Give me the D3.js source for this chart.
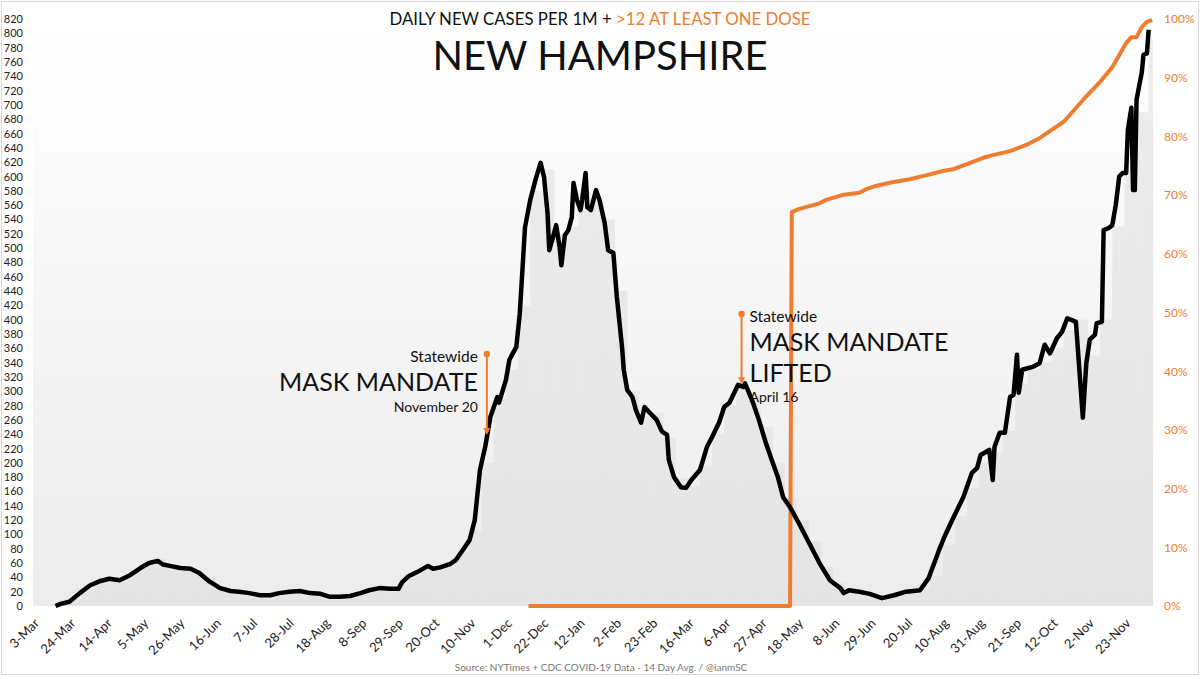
<!DOCTYPE html>
<html><head><meta charset="utf-8">
<script src="https://cdn.jsdelivr.net/npm/d3@7"></script>
<style>
html,body{margin:0;padding:0;background:#fff;}
svg{display:block;font-family:Lato,"Open Sans",sans-serif;}
</style></head><body>
<svg id="chart" width="1200" height="676"></svg>
<script>
// ---------------- DATA ----------------
const caseDates = ["2020-03-16","2020-03-19","2020-03-24","2020-03-30","2020-04-05","2020-04-11","2020-04-16","2020-04-22","2020-04-28","2020-05-04","2020-05-09","2020-05-14","2020-05-17","2020-05-21","2020-05-27","2020-06-02","2020-06-07","2020-06-13","2020-06-19","2020-06-25","2020-06-30","2020-07-06","2020-07-12","2020-07-18","2020-07-23","2020-07-29","2020-08-04","2020-08-10","2020-08-16","2020-08-21","2020-08-27","2020-09-02","2020-09-08","2020-09-13","2020-09-19","2020-09-25","2020-09-30","2020-10-02","2020-10-06","2020-10-12","2020-10-17","2020-10-20","2020-10-24","2020-10-30","2020-11-02","2020-11-06","2020-11-10","2020-11-13","2020-11-16","2020-11-19","2020-11-22","2020-11-26","2020-11-27","2020-12-01","2020-12-03","2020-12-07","2020-12-09","2020-12-12","2020-12-15","2020-12-18","2020-12-21","2020-12-23","2020-12-25","2020-12-26","2020-12-28","2020-12-30","2021-01-01","2021-01-02","2021-01-04","2021-01-06","2021-01-08","2021-01-09","2021-01-11","2021-01-13","2021-01-14","2021-01-16","2021-01-17","2021-01-19","2021-01-22","2021-01-24","2021-01-27","2021-01-29","2021-02-01","2021-02-03","2021-02-06","2021-02-07","2021-02-09","2021-02-12","2021-02-14","2021-02-17","2021-02-19","2021-02-22","2021-02-26","2021-03-01","2021-03-04","2021-03-05","2021-03-08","2021-03-12","2021-03-15","2021-03-18","2021-03-23","2021-03-27","2021-03-30","2021-04-03","2021-04-06","2021-04-09","2021-04-12","2021-04-14","2021-04-17","2021-04-18","2021-04-22","2021-04-26","2021-04-30","2021-05-04","2021-05-07","2021-05-10","2021-05-14","2021-05-19","2021-05-25","2021-05-31","2021-06-06","2021-06-12","2021-06-14","2021-06-17","2021-06-23","2021-06-29","2021-07-06","2021-07-13","2021-07-20","2021-07-28","2021-08-02","2021-08-08","2021-08-11","2021-08-15","2021-08-22","2021-08-27","2021-08-30","2021-09-01","2021-09-06","2021-09-08","2021-09-09","2021-09-12","2021-09-15","2021-09-18","2021-09-20","2021-09-22","2021-09-23","2021-09-25","2021-10-01","2021-10-05","2021-10-08","2021-10-11","2021-10-12","2021-10-15","2021-10-18","2021-10-21","2021-10-24","2021-10-26","2021-10-30","2021-11-01","2021-11-03","2021-11-06","2021-11-07","2021-11-10","2021-11-11","2021-11-14","2021-11-16","2021-11-18","2021-11-20","2021-11-22","2021-11-24","2021-11-25","2021-11-27","2021-11-28","2021-11-29","2021-11-30","2021-12-01","2021-12-03","2021-12-04","2021-12-06","2021-12-07"];
const caseValues = [0,3,6,18,29,35,38,36,43,53,60,63,58,56,53,52,46,34,25,21,20,18,15,15,18,20,21,18,17,13,13,14,18,22,25,24,24,33,42,49,56,52,54,59,64,78,92,120,190,222,264,292,284,316,344,362,409,529,567,595,619,599,549,497,514,532,501,476,518,525,543,591,567,553,567,605,557,553,581,567,535,497,493,432,362,330,302,292,274,256,278,270,260,244,239,204,180,166,165,176,190,222,236,256,278,284,299,309,306,311,288,260,228,200,180,152,138,116,88,60,36,25,18,22,20,17,11,15,20,22,39,78,96,117,152,186,193,211,218,176,222,242,242,292,295,351,298,330,334,339,365,353,358,374,383,402,399,397,263,339,372,379,395,397,525,528,532,560,600,605,605,665,696,581,581,707,720,745,770,772,805];

const doseDates = ["2020-12-14","2021-05-14","2021-05-15","2021-05-19","2021-05-31","2021-06-04","2021-06-13","2021-06-23","2021-06-27","2021-07-03","2021-07-12","2021-07-22","2021-08-01","2021-08-10","2021-08-16","2021-08-26","2021-09-04","2021-09-08","2021-09-18","2021-09-27","2021-10-05","2021-10-12","2021-10-19","2021-10-25","2021-10-31","2021-11-09","2021-11-16","2021-11-24","2021-11-27","2021-11-30","2021-12-03","2021-12-06","2021-12-09"];
const doseValues = [0,0,67.1,67.6,68.6,69.2,70.0,70.4,71.0,71.6,72.2,72.7,73.4,74.1,74.4,75.5,76.5,76.8,77.5,78.5,79.7,81.1,82.5,84.5,86.5,89.3,91.8,95.9,96.9,96.9,98.6,99.5,99.8];

// weekly estimate of the daily-case bars (per 1M)
const barWeekStarts = ["2020-03-03","2020-03-10","2020-03-17","2020-03-24","2020-03-31","2020-04-07","2020-04-14","2020-04-21","2020-04-28","2020-05-05","2020-05-12","2020-05-19","2020-05-26","2020-06-02","2020-06-09","2020-06-16","2020-06-23","2020-06-30","2020-07-07","2020-07-14","2020-07-21","2020-07-28","2020-08-04","2020-08-11","2020-08-18","2020-08-25","2020-09-01","2020-09-08","2020-09-15","2020-09-22","2020-09-29","2020-10-06","2020-10-13","2020-10-20","2020-10-27","2020-11-03","2020-11-10","2020-11-17","2020-11-24","2020-12-01","2020-12-08","2020-12-15","2020-12-22","2020-12-29","2021-01-05","2021-01-12","2021-01-19","2021-01-26","2021-02-02","2021-02-09","2021-02-16","2021-02-23","2021-03-02","2021-03-09","2021-03-16","2021-03-23","2021-03-30","2021-04-06","2021-04-13","2021-04-20","2021-04-27","2021-05-04","2021-05-11","2021-05-18","2021-05-25","2021-06-01","2021-06-08","2021-06-15","2021-06-22","2021-06-29","2021-07-06","2021-07-13","2021-07-20","2021-07-27","2021-08-03","2021-08-10","2021-08-17","2021-08-24","2021-08-31","2021-09-07","2021-09-14","2021-09-21","2021-09-28","2021-10-05","2021-10-12","2021-10-19","2021-10-26","2021-11-02","2021-11-09","2021-11-16","2021-11-23","2021-11-30","2021-12-07"];
const barValues = [0,1,4,10,25,35,40,38,48,62,66,58,55,50,40,27,22,20,17,15,18,21,22,18,15,13,15,20,24,26,30,42,52,55,62,75,105,200,290,330,420,580,610,520,530,580,570,540,440,300,265,270,235,178,168,195,240,280,305,295,250,200,150,120,90,55,32,20,20,15,12,15,20,24,42,85,125,165,200,215,245,310,330,340,360,385,400,350,400,530,610,690,790];

const yTicks = [0,20,40,60,80,100,120,140,160,180,200,220,240,260,280,300,320,340,360,380,400,420,440,460,480,500,520,540,560,580,600,620,640,660,680,700,720,740,760,780,800,820];
const pctTicks = [0,10,20,30,40,50,60,70,80,90,100];
const xTickDates = ["2020-03-03","2020-03-24","2020-04-14","2020-05-05","2020-05-26","2020-06-16","2020-07-07","2020-07-28","2020-08-18","2020-09-08","2020-09-29","2020-10-20","2020-11-10","2020-12-01","2020-12-22","2021-01-12","2021-02-02","2021-02-23","2021-03-16","2021-04-06","2021-04-27","2021-05-18","2021-06-08","2021-06-29","2021-07-20","2021-08-10","2021-08-31","2021-09-21","2021-10-12","2021-11-02","2021-11-23"];
const xTickLabels = ["3-Mar","24-Mar","14-Apr","5-May","26-May","16-Jun","7-Jul","28-Jul","18-Aug","8-Sep","29-Sep","20-Oct","10-Nov","1-Dec","22-Dec","12-Jan","2-Feb","23-Feb","16-Mar","6-Apr","27-Apr","18-May","8-Jun","29-Jun","20-Jul","10-Aug","31-Aug","21-Sep","12-Oct","2-Nov","23-Nov"];

const annotations = [
  {date:"2020-11-20", top:354, lines:["Statewide","MASK MANDATE","November 20"], side:"left"},
  {date:"2021-04-16", top:314, lines:["Statewide","MASK MANDATE","LIFTED","April 16"], side:"right"}
];

// ---------------- CHART ----------------
const W = 1200, H = 676;
const ORANGE = "#ED7D31";
const parse = d3.utcParse("%Y-%m-%d");
const svg = d3.select("#chart");

const x = d3.scaleUtc()
  .domain([parse("2020-03-03"), new Date(Date.UTC(2021,11,9,12))])
  .range([33, 1153]);
const y = d3.scaleLinear().domain([0, 820]).range([606, 19]);
const yP = d3.scaleLinear().domain([0, 100]).range([606, 19]);

// outer border
svg.append("rect").attr("x",1.5).attr("y",1.5).attr("width",W-3).attr("height",H-3)
  .attr("fill","#fff").attr("stroke","#d9d9d9").attr("stroke-width",1);

// plot background gradient
const defs = svg.append("defs");
const grad = defs.append("linearGradient").attr("id","bg").attr("x1",0).attr("x2",0).attr("y1",0).attr("y2",1);
grad.append("stop").attr("offset","0%").attr("stop-color","#ffffff");
grad.append("stop").attr("offset","100%").attr("stop-color","#ececec");
svg.append("rect").attr("x",x.range()[0]).attr("y",y(820)).attr("width",x.range()[1]-x.range()[0])
  .attr("height",y(0)-y(820)).attr("fill","url(#bg)");

// bars
const dayMs = 86400000;
svg.append("g").selectAll("rect").data(barWeekStarts.map((d,i)=>({d:parse(d),v:barValues[i]})))
  .join("rect")
  .attr("x", d=>x(d.d))
  .attr("width", d=>Math.max(0, Math.min(x.range()[1], x(new Date(+d.d+7*dayMs))) - x(d.d)))
  .attr("y", d=>y(d.v))
  .attr("height", d=>y(0)-y(d.v))
  .attr("fill","#dedede").attr("opacity",0.55);

// left axis
const yAxis = d3.axisLeft(y).tickValues(yTicks).tickSize(0).tickPadding(0);
const gy = svg.append("g").attr("transform","translate(23,0)").call(yAxis);
gy.select(".domain").remove();
gy.selectAll("text").attr("font-size",11).attr("fill","#222").attr("font-family","Lato, sans-serif");

// right axis
const yAxisR = d3.axisRight(yP).tickValues(pctTicks).tickFormat(d=>d+"%").tickSize(0).tickPadding(0);
const gr = svg.append("g").attr("transform","translate(1164,0)").call(yAxisR);
gr.select(".domain").remove();
gr.selectAll("text").attr("font-size",12).attr("fill",ORANGE).attr("font-family","Lato, sans-serif");

// x labels
const gx = svg.append("g");
gx.selectAll("text").data(xTickDates.map((d,i)=>({d:parse(d),l:xTickLabels[i]})))
  .join("text")
  .attr("transform", d=>`translate(${x(d.d)+7},${624}) rotate(-45)`)
  .attr("text-anchor","end")
  .attr("font-size",13).attr("fill","#222")
  .text(d=>d.l);

// dose line (orange)
const doseData = doseDates.map((d,i)=>({d:parse(d),v:doseValues[i]}));
svg.append("path").datum(doseData)
  .attr("fill","none").attr("stroke",ORANGE).attr("stroke-width",4).attr("stroke-linejoin","round")
  .attr("d", d3.line().x(d=>x(d.d)).y(d=>yP(d.v)));

// case line (black)
const caseData = caseDates.map((d,i)=>({d:parse(d),v:caseValues[i]}));
svg.append("path").datum(caseData)
  .attr("fill","none").attr("stroke","#000").attr("stroke-width",4.5).attr("stroke-linejoin","round")
  .attr("d", d3.line().x(d=>x(d.d)).y(d=>y(d.v)));

// annotations
function valueAt(date){
  const t = +parse(date);
  for(let i=1;i<caseData.length;i++){
    if(+caseData[i].d >= t){
      const a=caseData[i-1], b=caseData[i];
      const f=(t-a.d)/(b.d-a.d);
      return a.v+(b.v-a.v)*f;
    }
  }
  return 0;
}
annotations.forEach(a=>{
  const ax = x(parse(a.date));
  const tipY = y(valueAt(a.date)) - 3;
  const g = svg.append("g");
  g.append("line").attr("x1",ax).attr("x2",ax).attr("y1",a.top).attr("y2",tipY-5)
    .attr("stroke",ORANGE).attr("stroke-width",2);
  g.append("circle").attr("cx",ax).attr("cy",a.top).attr("r",3.2).attr("fill",ORANGE);
  g.append("path").attr("d",`M${ax-3.5},${tipY-6}L${ax+3.5},${tipY-6}L${ax},${tipY+1}Z`).attr("fill",ORANGE);
  if(a.side==="left"){
    const tx = ax-9;
    g.append("text").attr("x",tx).attr("y",a.top+8).attr("text-anchor","end").attr("font-size",15.5).attr("fill","#111").text(a.lines[0]);
    g.append("text").attr("x",tx).attr("y",a.top+37).attr("text-anchor","end").attr("font-size",25).attr("fill","#111").text(a.lines[1]);
    g.append("text").attr("x",tx).attr("y",a.top+58).attr("text-anchor","end").attr("font-size",14).attr("fill","#111").text(a.lines[2]);
  } else {
    const tx = ax+8;
    g.append("text").attr("x",tx).attr("y",a.top+8).attr("font-size",15.5).attr("fill","#111").text(a.lines[0]);
    g.append("text").attr("x",tx).attr("y",a.top+37).attr("font-size",25).attr("fill","#111").text(a.lines[1]);
    g.append("text").attr("x",tx).attr("y",a.top+68).attr("font-size",25).attr("fill","#111").text(a.lines[2]);
    g.append("text").attr("x",tx).attr("y",a.top+88).attr("font-size",14).attr("fill","#111").text(a.lines[3]);
  }
});

// titles
const sub = svg.append("text").attr("x",600).attr("y",25).attr("text-anchor","middle").attr("font-size",16.8).attr("fill","#111");
sub.append("tspan").text("DAILY NEW CASES PER 1M + ");
sub.append("tspan").attr("fill",ORANGE).text(">12 AT LEAST ONE DOSE");
svg.append("text").attr("x",600).attr("y",70).attr("text-anchor","middle").attr("font-size",40).attr("fill","#111").text("NEW HAMPSHIRE");

svg.append("text").attr("x",601).attr("y",671).attr("text-anchor","middle").attr("font-size",10).attr("fill","#777")
  .text("Source: NYTimes + CDC COVID-19 Data - 14 Day Avg. / @ianmSC");
</script>
</body></html>
